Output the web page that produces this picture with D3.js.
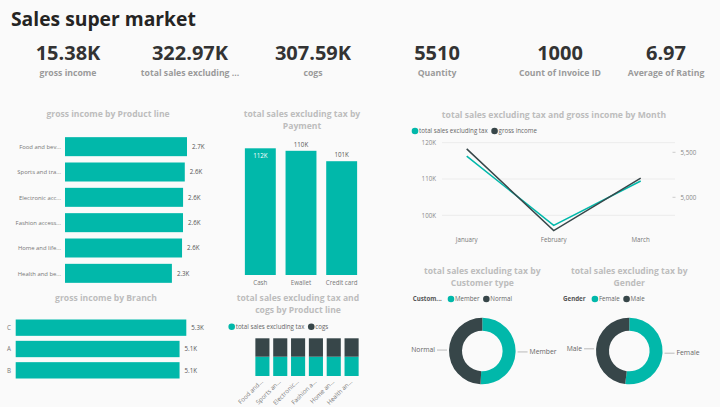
<!DOCTYPE html>
<html><head><meta charset="utf-8">
<script src="https://cdn.jsdelivr.net/npm/d3@7"></script>
<style>
html,body{margin:0;padding:0;background:#fafafa;}
text{font-family:"Open Sans","Segoe UI",sans-serif;}
</style></head>
<body><div id="chart"></div>
<script>
const kpiValues = ["15.38K","322.97K","307.59K","5510","1000","6.97"];
const kpiLabels = ["gross income","total sales excluding ...","cogs","Quantity","Count of Invoice ID","Average of Rating"];

const productLines = ["Food and bev...","Sports and tra...","Electronic acc...","Fashion access...","Home and life...","Health and be..."];
const grossByProduct = [2673.56, 2624.90, 2587.50, 2586.00, 2564.85, 2342.56];
const grossByProductLabels = ["2.7K","2.6K","2.6K","2.6K","2.6K","2.3K"];

const payments = ["Cash","Ewallet","Credit card"];
const salesByPayment = [112206.57, 109993.11, 100767.07];
const salesByPaymentLabels = ["112K","110K","101K"];

const months = ["January","February","March"];
const salesByMonth = [116291.87, 97219.37, 109455.51];
const grossByMonth = [5537.71, 4629.49, 5212.17];
const leftTicks = [100000, 110000, 120000];
const leftTickLabels = ["100K","110K","120K"];
const rightTicks = [5000, 5500];
const rightTickLabels = ["5,000","5,500"];

const branches = ["C","A","B"];
const grossByBranch = [5265.18, 5057.16, 5057.03];
const grossByBranchLabels = ["5.3K","5.1K","5.1K"];

const productShort = ["Food and...","Sports an...","Electronic...","Fashion a...","Home an...","Health an..."];
const salesByProduct = [56144.84, 55122.83, 54337.53, 54305.90, 53861.91, 49193.74];
const cogsByProduct = [53471.28, 52497.93, 51750.03, 51719.90, 51297.06, 46851.18];

const customerTypes = ["Member","Normal"];
const salesByCustomer = [164223.44, 158743.31];
const genders = ["Female","Male"];
const salesByGender = [167882.93, 155083.82];

const TEAL = "#01B8AA", DARK = "#374649";
const TITLE_C = "#bdbdbd", AXIS_C = "#777";

const svg = d3.select("#chart").append("svg").attr("width",720).attr("height",407)
  .style("display","block");
svg.append("rect").attr("width",720).attr("height",407).attr("fill","#fafafa");

svg.append("text").attr("x",11).attr("y",26).text("Sales super market")
  .attr("font-size",19.3).attr("font-weight",700).attr("fill","#252423");

const kpiX = [68,190,313,437,560,666];
kpiValues.forEach((v,i)=>{
  svg.append("text").attr("x",kpiX[i]).attr("y",60).attr("text-anchor","middle")
    .attr("font-size",20).attr("font-weight",700).attr("fill","#333").text(v);
  svg.append("text").attr("x",kpiX[i]).attr("y",76).attr("text-anchor","middle")
    .attr("font-size",8.7).attr("font-weight",700).attr("fill","#9a9a9a").text(kpiLabels[i]);
});

function title(lines, cx, y0){
  lines.forEach((l,i)=>svg.append("text").attr("x",cx).attr("y",y0+i*12).attr("text-anchor","middle")
    .attr("font-size",8.6).attr("font-weight",700).attr("fill",TITLE_C).text(l));
}
function small(x,y,t,anchor,fill,size){
  return svg.append("text").attr("x",x).attr("y",y).attr("text-anchor",anchor||"start")
    .attr("font-size",size||6.2).attr("fill",fill||AXIS_C).text(t);
}
// legend laid out left to right from measured text widths
function legend(x0, cy, items, header){
  let x = x0;
  if(header){
    const t = svg.append("text").attr("x",x).attr("y",cy+2.2).attr("font-size",6.2).attr("font-weight",700)
      .attr("fill","#555").text(header);
    x += t.node().getComputedTextLength() + 6;
  }
  items.forEach(([name,col])=>{
    svg.append("circle").attr("cx",x+3.3).attr("cy",cy).attr("r",3.3).attr("fill",col);
    const t = small(x+7.3, cy+2.2, name, "start", "#666");
    x += 7.3 + t.node().getComputedTextLength() + 3.5;
  });
}

// ---- gross income by Product line
title(["gross income by Product line"],108,117);
{
  const x = d3.scaleLinear().domain([0,d3.max(grossByProduct)]).range([65,187]);
  const y = d3.scaleBand().domain(productLines).range([134,286]).paddingInner(0.25).paddingOuter(0.125);
  svg.append("g").selectAll("rect").data(productLines).join("rect")
    .attr("x",x(0)).attr("y",d=>y(d)).attr("height",y.bandwidth())
    .attr("width",(d,i)=>x(grossByProduct[i])-x(0)).attr("fill",TEAL);
  productLines.forEach((d,i)=>{
    small(61,y(d)+y.bandwidth()/2+2.2,d,"end","#777",5.9);
    small(x(grossByProduct[i])+5,y(d)+y.bandwidth()/2+2.2,grossByProductLabels[i],"start","#555");
  });
}

// ---- total sales excluding tax by Payment
title(["total sales excluding tax by","Payment"],302,117);
{
  const x = d3.scaleBand().domain(payments).range([240,362]).paddingInner(0.24).paddingOuter(0.12);
  const y = d3.scaleLinear().domain([0,d3.max(salesByPayment)]).range([275,148.3]);
  svg.append("g").selectAll("rect").data(payments).join("rect")
    .attr("x",d=>x(d)).attr("width",x.bandwidth())
    .attr("y",(d,i)=>y(salesByPayment[i])).attr("height",(d,i)=>y(0)-y(salesByPayment[i]))
    .attr("fill",TEAL);
  payments.forEach((d,i)=>{
    const top = y(salesByPayment[i]);
    const inside = top < 150;
    small(x(d)+x.bandwidth()/2, inside? top+10 : top-4, salesByPaymentLabels[i],"middle", inside?"#fff":"#555");
    small(x(d)+x.bandwidth()/2, 284.5, d, "middle");
  });
}

// ---- line chart by Month
title(["total sales excluding tax and gross income by Month"],554,118);
{
  legend(411.7, 131, [["total sales excluding tax",TEAL],["gross income",DARK]]);
  const x = d3.scalePoint().domain(months).range([466.7,640.7]);
  const yl = d3.scaleLinear().domain([100000,120000]).range([215.3,142.7]);
  const yr = d3.scaleLinear().domain([5000,5500]).range([197.3,152.3]);
  leftTicks.forEach((t,i)=>{
    svg.append("line").attr("x1",442).attr("x2",675).attr("y1",yl(t)).attr("y2",yl(t))
      .attr("stroke","#ececec").attr("stroke-width",1);
    small(436,yl(t)+2.2,leftTickLabels[i],"end","#888");
  });
  rightTicks.forEach((t,i)=>{
    svg.append("line").attr("x1",672.5).attr("x2",675.5).attr("y1",yr(t)).attr("y2",yr(t))
      .attr("stroke","#ccc");
    small(680.5,yr(t)+2.2,rightTickLabels[i],"start","#888");
  });
  const ll = d3.line().x((d,i)=>x(months[i]));
  svg.append("path").attr("d",ll.y(d=>yl(d))(salesByMonth)).attr("fill","none")
    .attr("stroke",TEAL).attr("stroke-width",1.5);
  svg.append("path").attr("d",ll.y(d=>yr(d))(grossByMonth)).attr("fill","none")
    .attr("stroke",DARK).attr("stroke-width",1.5);
  months.forEach(m=>small(x(m),241.5,m,"middle","#777"));
}

// ---- gross income by Branch
title(["gross income by Branch"],106,301);
{
  const x = d3.scaleLinear().domain([0,d3.max(grossByBranch)]).range([15.7,186.3]);
  const y = d3.scaleBand().domain(branches).range([317,381]).paddingInner(0.234).paddingOuter(0.117);
  svg.append("g").selectAll("rect").data(branches).join("rect")
    .attr("x",x(0)).attr("y",d=>y(d)).attr("height",y.bandwidth())
    .attr("width",(d,i)=>x(grossByBranch[i])-x(0)).attr("fill",TEAL);
  branches.forEach((d,i)=>{
    small(9,y(d)+y.bandwidth()/2+2.2,d,"middle");
    small(x(grossByBranch[i])+5,y(d)+y.bandwidth()/2+2.2,grossByBranchLabels[i],"start","#555");
  });
}

// ---- stacked 100% product line
title(["total sales excluding tax and","cogs by Product line"],298,301);
{
  legend(228.4, 326.7, [["total sales excluding tax",TEAL],["cogs",DARK]]);
  const rows = productShort.map((p,i)=>({p, sales:salesByProduct[i], cogs:cogsByProduct[i]}));
  const stack = d3.stack().keys(["sales","cogs"]).offset(d3.stackOffsetExpand)(rows);
  const x = d3.scaleBand().domain(productShort).range([253.5,360.5]).paddingInner(0.21).paddingOuter(0.105);
  const y = d3.scaleLinear().domain([0,1]).range([376,338.3]);
  const cols = {sales:TEAL, cogs:DARK};
  stack.forEach(s=>{
    svg.append("g").selectAll("rect").data(s).join("rect")
      .attr("x",d=>x(d.data.p)).attr("width",x.bandwidth())
      .attr("y",d=>y(d[1])).attr("height",d=>y(d[0])-y(d[1])).attr("fill",cols[s.key]);
  });
  productShort.forEach(p=>{
    svg.append("text").attr("transform",`translate(${x(p)+x.bandwidth()/2+1},${382}) rotate(-45)`)
      .attr("text-anchor","end").attr("font-size",6.2).attr("fill","#777").text(p);
  });
}

// ---- donuts
function donut(names, values, cx, titleLines, legendLabel, legendX){
  title(titleLines, cx, 274);
  legend(legendX, 299, [[names[0],TEAL],[names[1],DARK]], legendLabel);
  const cy = 351;
  const pie = d3.pie().sort(null)(values);
  const arc = d3.arc().innerRadius(20.3).outerRadius(33.3);
  svg.append("g").attr("transform",`translate(${cx},${cy})`).selectAll("path").data(pie).join("path")
    .attr("d",arc).attr("fill",(d,i)=>[TEAL,DARK][i]);
  pie.forEach((d,i)=>{
    const a = (d.startAngle+d.endAngle)/2;
    const r = 35.3;
    const px = cx + r*Math.sin(a), py = cy - r*Math.cos(a);
    const dir = Math.sin(a) >= 0 ? 1 : -1;
    svg.append("line").attr("x1",px).attr("x2",px+dir*10).attr("y1",py).attr("y2",py)
      .attr("stroke","#aaa").attr("stroke-width",0.8);
    small(px+dir*12, py+2.3, names[i], dir>0?"start":"end", "#666", 6.8);
  });
}
donut(customerTypes, salesByCustomer, 482.3, ["total sales excluding tax by","Customer type"], "Custom...", 412.7);
donut(genders, salesByGender, 629.3, ["total sales excluding tax by","Gender"], "Gender", 563);
</script></body></html>
